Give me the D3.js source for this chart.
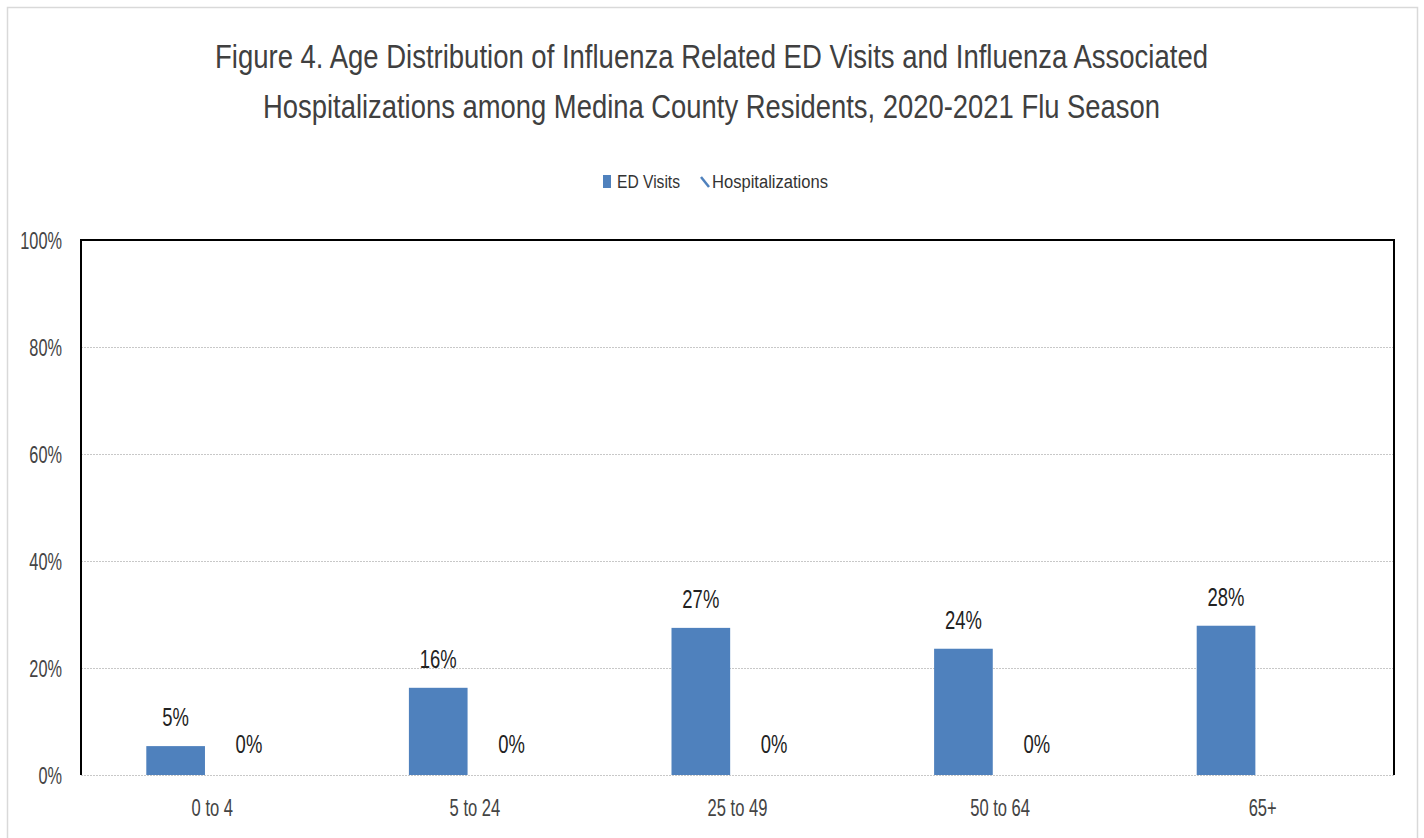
<!DOCTYPE html>
<html>
<head>
<meta charset="utf-8">
<title>Figure 4</title>
<script src="https://cdn.jsdelivr.net/npm/d3@7/dist/d3.min.js"></script>
<style>
	body { margin: 0; background: #fff; }
	text { font-family: "Liberation Sans", Arial, sans-serif; fill: #333; }
	.title { font-size: 33px; fill: #404040; }
	.tick text { font-size: 23px; fill: #444; }
	.barLabel { font-size: 26px; fill: #222; }
	.legend text { font-size: 18px; fill: #333; }
</style>
</head>
<body>
<svg id="chart" width="1424" height="838"></svg>
<script>

var ageGroups = ['0 to 4', '5 to 24', '25 to 49', '50 to 64', '65+'];
var edVisits = [5.4, 16.3, 27.5, 23.6, 27.9];
var edLabels = ['5%', '16%', '27%', '24%', '28%'];
var hospitalizations = [0, 0, 0, 0, null];
var hospLabels = ['0%', '0%', '0%', '0%', ''];
var yTicks = [0, 20, 40, 60, 80, 100];
var seriesNames = ['ED Visits', 'Hospitalizations'];

var barColor = '#4f81bd';

var svg = d3.select('#chart');

var margin = {left: 81, right: 30, top: 240, bottom: 63},
	width = 1424 - margin.left - margin.right,
	height = 838 - margin.top - margin.bottom;

// squeeze text horizontally around its anchor x (the source image is narrow)
function squash(sel, s) {
	sel.each(function() {
		var t = d3.select(this);
		var x = +t.attr('x') || 0;
		t.attr('transform', 'translate(' + x + ',0) scale(' + s + ',1) translate(' + (-x) + ',0)');
	});
}

// outer frame
svg.append('rect')
	.attr('x', 7.5).attr('y', 7.5)
	.attr('width', 1410).attr('height', 840)
	.attr('fill', 'none')
	.attr('stroke', '#d9d9d9')
	.attr('stroke-width', 1.5);

svg.append('text').attr('class', 'title')
	.attr('x', 215).attr('y', 68)
	.attr('textLength', 993).attr('lengthAdjust', 'spacingAndGlyphs')
	.text('Figure 4. Age Distribution of Influenza Related ED Visits and Influenza Associated');
svg.append('text').attr('class', 'title')
	.attr('x', 263).attr('y', 118)
	.attr('textLength', 897).attr('lengthAdjust', 'spacingAndGlyphs')
	.text('Hospitalizations among Medina County Residents, 2020-2021 Flu Season');

var g = svg.append('g').attr('transform', 'translate(' + margin.left + ',' + margin.top + ')');

var x = d3.scaleBand().domain(ageGroups).range([0, width]);
var x1 = d3.scaleBand().domain(seriesNames).range([x.bandwidth() / 2 - 66, x.bandwidth() / 2 + 66]).paddingInner(0.2);
var y = d3.scaleLinear().domain([0, 100]).range([height, 0]);

// gridlines
g.append('g')
	.selectAll('line')
	.data(yTicks)
	.enter()
	.append('line')
	.attr('x1', 0).attr('x2', width)
	.attr('y1', function(d) {return y(d) + 0.5;})
	.attr('y2', function(d) {return y(d) + 0.5;})
	.attr('stroke', '#c8c8c8')
	.attr('stroke-width', 1)
	.attr('stroke-dasharray', '2,1');

// plot area frame (left, top, right)
g.append('path')
	.attr('d', 'M0,' + height + 'V0H' + width + 'V' + height)
	.attr('fill', 'none')
	.attr('stroke', '#000')
	.attr('stroke-width', 2);

var yAxis = g.append('g')
	.call(d3.axisLeft(y).tickValues(yTicks).tickFormat(function(d) {return d + '%';}).tickSize(0).tickPadding(19));
yAxis.select('.domain').remove();
yAxis.selectAll('.tick text').attr('dy', '0.36em');
squash(yAxis.selectAll('.tick text'), 0.71);

var xAxis = g.append('g')
	.attr('transform', 'translate(0,' + height + ')')
	.call(d3.axisBottom(x).tickSize(0).tickPadding(25));
xAxis.select('.domain').remove();
squash(xAxis.selectAll('.tick text'), 0.72);

var groups = g.selectAll('.group')
	.data(ageGroups)
	.enter()
	.append('g')
	.attr('class', 'group')
	.attr('transform', function(d) {return 'translate(' + x(d) + ',0)';});

groups.append('rect')
	.attr('x', x1('ED Visits'))
	.attr('width', x1.bandwidth())
	.attr('y', function(d, i) {return y(edVisits[i]);})
	.attr('height', function(d, i) {return height - y(edVisits[i]);})
	.attr('fill', barColor);

groups.append('text').attr('class', 'barLabel')
	.attr('x', x1('ED Visits') + x1.bandwidth() / 2)
	.attr('y', function(d, i) {return y(edVisits[i]) - 20;})
	.attr('text-anchor', 'middle')
	.text(function(d, i) {return edLabels[i];});

groups.filter(function(d, i) {return hospitalizations[i] !== null;})
	.append('rect')
	.attr('x', x1('Hospitalizations'))
	.attr('width', x1.bandwidth())
	.attr('y', function(d) {return y(hospitalizations[ageGroups.indexOf(d)]);})
	.attr('height', function(d) {return height - y(hospitalizations[ageGroups.indexOf(d)]);})
	.attr('fill', barColor);

groups.append('text').attr('class', 'barLabel')
	.attr('x', x1('Hospitalizations') + x1.bandwidth() / 2)
	.attr('y', function(d, i) {return y(hospitalizations[i] || 0) - 22;})
	.attr('text-anchor', 'middle')
	.text(function(d, i) {return hospLabels[i];});

squash(g.selectAll('.barLabel'), 0.71);

// legend
var legend = svg.append('g').attr('class', 'legend').attr('transform', 'translate(603,188)');
legend.append('rect').attr('x', 0).attr('y', -13).attr('width', 8).attr('height', 13).attr('fill', barColor);
var l1 = legend.append('text').attr('x', 14).attr('y', 0)
	.attr('textLength', 63).attr('lengthAdjust', 'spacingAndGlyphs').text(seriesNames[0]);
legend.append('line')
	.attr('x1', 98).attr('y1', -11).attr('x2', 106).attr('y2', -1)
	.attr('stroke', barColor).attr('stroke-width', 2.5);
legend.append('text').attr('x', 109).attr('y', 0)
	.attr('textLength', 116).attr('lengthAdjust', 'spacingAndGlyphs').text(seriesNames[1]);

</script>
</body>
</html>
